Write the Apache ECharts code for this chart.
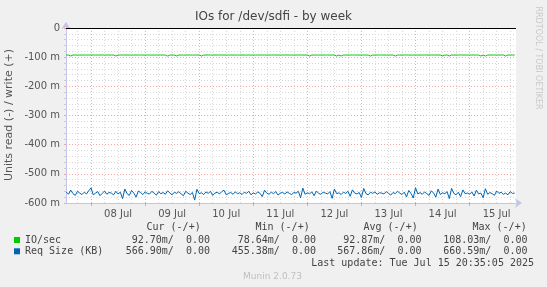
<!DOCTYPE html>
<html><head><meta charset="utf-8">
<script src="https://cdn.jsdelivr.net/npm/echarts@6/dist/echarts.min.js"></script>
<style>html,body{margin:0;padding:0;background:#f0f0f0}#c{width:547px;height:287px}</style>
</head><body><div id="c"></div>
<script>
// time expressed in hours after 07 Jul 2025 00:00
const startHour = 13;
const stepHours = 1;
const axisMinHour = 12.9;
const axisMaxHour = 212.58;
const dayLabels = ['08 Jul','09 Jul','10 Jul','11 Jul','12 Jul','13 Jul','14 Jul','15 Jul'];
const dayLabelHours = [36,60,84,108,132,156,180,204];
const midnightHours = [24,48,72,96,120,144,168,192];
const sixHourGrid = [18,30,36,42,54,60,66,78,84,90,102,108,114,126,132,138,150,156,162,174,180,186,198,204,210];
const yTickValues = [0,-100,-200,-300,-400,-500,-600];

// values in milli-units (read side, plotted negative)
const ioSec = [
92.7,92.8,96.1,92.6,92.7,92.7,92.9,92.6,92.7,92.8,92.7,92.6,92.7,92.8,92.7,92.7,92.6,92.8,92.7,92.7,
92.8,92.7,95.8,92.8,92.7,92.7,92.6,92.8,92.7,92.7,92.8,92.6,92.7,92.7,92.8,92.7,92.6,92.7,92.8,92.7,
92.7,92.6,92.6,92.8,92.7,96.3,92.7,92.7,92.8,95.9,92.7,92.7,92.8,92.6,92.7,92.7,92.8,92.8,92.7,92.6,
96.0,92.8,92.7,92.6,92.7,92.8,92.7,92.7,92.6,92.8,92.7,92.7,92.8,92.6,92.7,92.7,92.8,92.7,92.6,92.7,
92.8,92.7,92.7,92.6,92.8,92.7,92.7,92.6,92.7,92.8,92.7,92.7,92.6,92.8,92.7,92.7,92.8,92.6,92.7,92.7,
92.8,92.7,92.7,92.7,92.6,92.8,92.7,92.7,96.2,92.8,92.7,92.7,92.8,92.6,92.7,92.7,92.7,92.8,92.6,92.7,
96.0,92.8,95.9,92.7,92.7,92.8,92.7,92.6,92.7,92.6,92.8,92.7,92.7,92.6,92.8,96.1,92.7,92.8,92.7,92.7,
92.6,92.7,92.8,92.7,92.7,92.6,96.2,92.7,92.7,92.8,92.6,92.7,92.7,92.8,92.7,92.6,92.7,92.8,92.7,92.7,
92.7,92.8,92.6,92.7,92.6,92.8,92.7,95.8,92.8,92.6,96.0,92.7,92.8,92.7,92.7,92.6,92.7,92.7,92.8,92.7,
92.7,92.6,92.8,92.7,95.9,92.7,96.1,92.8,92.6,92.7,92.7,92.8,92.7,92.6,92.7,96.2,92.7,92.7,92.6,92.7
];
const reqSize = [
562,570,556,568,574,560,566,571,563,569,558,548,572,566,561,575,567,559,570,564,
566,572,560,569,563,585,552,568,574,557,566,580,559,564,571,562,567,569,560,566,
573,561,568,564,570,558,566,572,563,567,561,569,575,560,566,571,564,590,553,568,
565,571,562,567,560,574,566,563,569,561,556,572,567,564,570,562,568,565,571,563,
567,560,572,565,569,562,567,578,556,566,570,563,568,561,573,566,564,569,562,567,
571,564,566,560,582,549,570,565,568,562,575,559,567,570,563,566,569,561,584,552,
568,565,571,563,567,560,577,555,566,569,564,581,550,568,572,563,567,562,570,565,
566,569,561,567,573,564,568,560,566,571,563,579,557,567,583,548,569,564,570,562,
568,574,558,566,580,552,571,565,568,561,585,550,567,572,563,578,555,568,566,570,
562,576,556,569,566,582,551,570,564,568,574,559,567,563,570,566,572,561,567,566
];

const legendRows = [
  {name:'IO/sec', color:'#00cc00', cur:'92.70m/  0.00', min:'78.64m/  0.00', avg:'92.87m/  0.00', max:'108.03m/  0.00'},
  {name:'Req Size (KB)', color:'#0066b3', cur:'566.90m/  0.00', min:'455.38m/  0.00', avg:'567.86m/  0.00', max:'660.59m/  0.00'}
];
const headers = ['Cur (-/+)','Min (-/+)','Avg (-/+)','Max (-/+)'];

const toSeries = arr => arr.map((v,i)=>[startHour + i*stepHours, -v]);

const mono = '"DejaVu Sans Mono", monospace';
const sans = '"DejaVu Sans", sans-serif';
const axisCol = '#c4c4e8';
const redGrid = 'rgba(230,110,110,0.6)';
const grayGrid = '#d8d8d8';

const graphic = [];
graphic.push({type:'text', left:'center', top:11, style:{text:'IOs for /dev/sdfi - by week', font:'12px '+sans, fill:'#444'}});
graphic.push({type:'text', x:9, y:115, rotation:Math.PI/2, style:{text:'Units read (-) / write (+)', font:'11px '+sans, fill:'#555', align:'center', verticalAlign:'middle'}});
graphic.push({type:'text', x:538, y:58, rotation:-Math.PI/2, style:{text:'RRDTOOL / TOBI OETIKER', font:'8px '+sans, fill:'#c8c8c8', align:'center', verticalAlign:'middle'}});
const hx = [146.5,255.5,363.5,472.5];
headers.forEach((h,i)=>graphic.push({type:'text', x:hx[i], y:227.5, style:{text:h, font:'10px '+mono, fill:'#444', align:'left', verticalAlign:'middle'}}));
const colEnd = [210,316,421.5,527.5];
legendRows.forEach((r,k)=>{
  const y = 240.5 + k*11.3;
  graphic.push({type:'rect', shape:{x:14,y:y-3.5,width:6,height:6}, style:{fill:r.color}});
  graphic.push({type:'text', x:25, y:y, style:{text:r.name, font:'10px '+mono, fill:'#444', verticalAlign:'middle'}});
  [r.cur,r.min,r.avg,r.max].forEach((t,i)=>graphic.push({type:'text', x:colEnd[i], y:y, style:{text:t, font:'10px '+mono, fill:'#444', align:'right', verticalAlign:'middle'}}));
});
graphic.push({type:'text', x:534, y:263.5, style:{text:'Last update: Tue Jul 15 20:35:05 2025', font:'10px '+mono, fill:'#444', align:'right', verticalAlign:'middle'}});
graphic.push({type:'text', x:272.5, y:276.5, style:{text:'Munin 2.0.73', font:'9px '+sans, fill:'#c0c0c0', align:'center', verticalAlign:'middle'}});

const chart = echarts.init(document.getElementById('c'), null, {renderer:'canvas'});
chart.setOption({
  animation:false,
  backgroundColor:'#f0f0f0',
  grid:{left:66, right:31, top:28, bottom:84, show:true, backgroundColor:'#ffffff', borderWidth:0},
  xAxis:[{
    type:'value', min:axisMinHour, max:axisMaxHour, position:'bottom',
    axisLine:{show:true, onZero:false, lineStyle:{color:axisCol, width:1}, symbol:['none','arrow'], symbolSize:[7,7], symbolOffset:[0,6]},
    axisTick:{show:true, customValues:midnightHours, length:3, inside:false, lineStyle:{color:redGrid}},
    axisLabel:{customValues:dayLabelHours, formatter:v=>dayLabels[dayLabelHours.indexOf(Math.round(v))]||'', color:'#555', fontFamily:sans, fontSize:10, margin:6},
    splitLine:{show:true, lineStyle:{color:redGrid, type:[1,2], width:1}},
    z:3
  },{
    type:'value', min:axisMinHour, max:axisMaxHour, position:'bottom',
    axisLine:{show:false, onZero:false}, axisLabel:{show:false},
    axisTick:{show:false, customValues:sixHourGrid},
    splitLine:{show:true, lineStyle:{color:grayGrid, type:[1,2], width:1}}
  }],
  yAxis:{
    type:'value', min:-600, max:0, interval:100,
    axisLine:{show:true, onZero:false, lineStyle:{color:axisCol, width:1}, symbol:['none','arrow'], symbolSize:[7,7], symbolOffset:[0,6]},
    axisTick:{show:true, length:2, lineStyle:{color:redGrid}},
    minorTick:{show:true, splitNumber:5, length:2, lineStyle:{color:'#ccc'}},
    minorSplitLine:{show:true, lineStyle:{color:grayGrid, type:[1,2], width:1}},
    axisLabel:{formatter:v=>v===0?'0':(v+' m'), color:'#555', fontFamily:sans, fontSize:10, margin:6},
    splitLine:{show:true, lineStyle:{color:redGrid, type:[1,2], width:1}}
  },
  series:[{
    name:'IO/sec', type:'line', data:toSeries(ioSec), showSymbol:false, symbol:'none',
    lineStyle:{color:'#00cc00', width:1}, itemStyle:{color:'#00cc00'},
    markLine:{silent:true, symbol:'none', label:{show:false}, data:[{yAxis:0}], lineStyle:{color:'#000', type:'solid', width:1}}
  },{
    name:'Req Size (KB)', type:'line', data:toSeries(reqSize), showSymbol:false, symbol:'none',
    lineStyle:{color:'#0066b3', width:1}, itemStyle:{color:'#0066b3'}
  }],
  graphic:graphic
});
</script></body></html>
